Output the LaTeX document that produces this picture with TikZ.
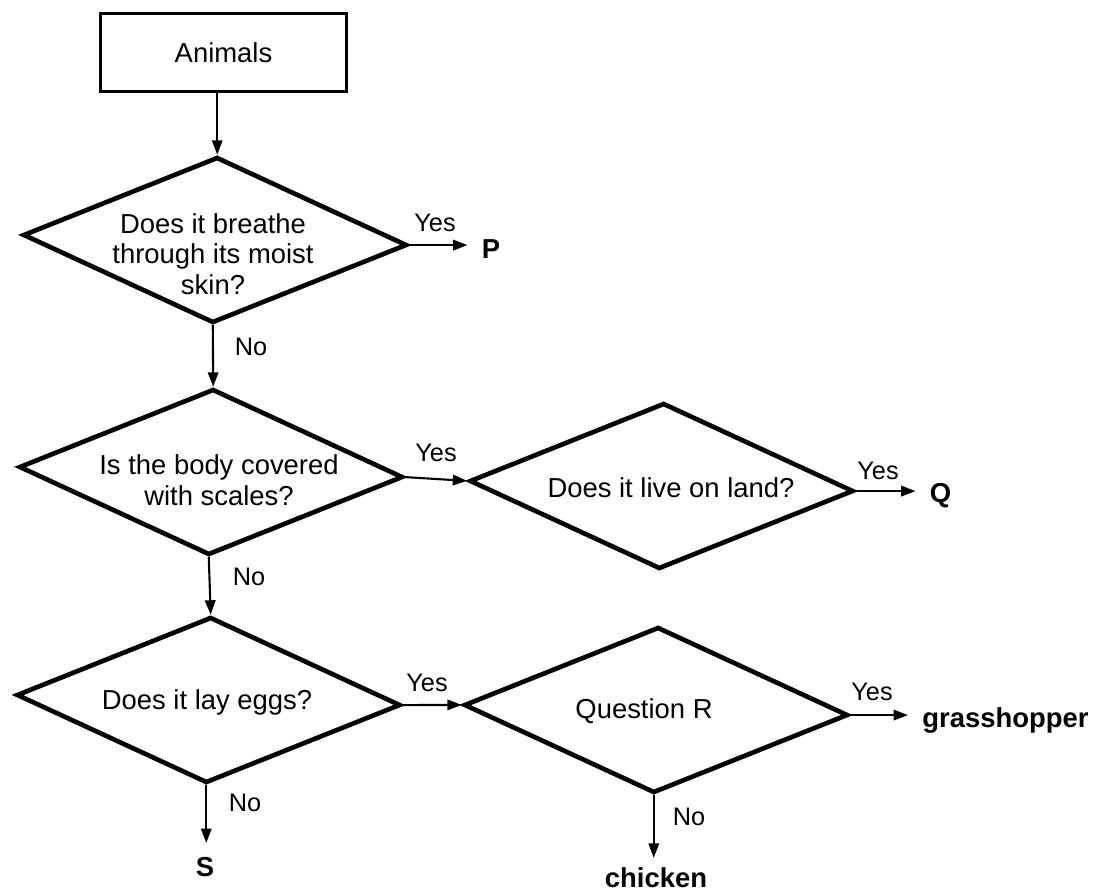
\documentclass[tikz,border=0pt]{standalone}
\usepackage{fontspec}
\setmainfont{Liberation Sans}
\usetikzlibrary{shapes.geometric,arrows.meta}
\newcommand{\bigtext}{\fontsize{19.5}{21.7}\selectfont}
\newcommand{\smalltext}{\fontsize{18}{20}\selectfont}
\tikzset{
	startbox/.style={draw, line width=2.6pt, minimum width=6.15cm, minimum height=1.95cm, inner sep=0pt, font=\bigtext},
	question/.style={diamond, draw, line width=3.3pt, minimum width=9.6cm, minimum height=4.15cm, inner sep=0pt, rotate=-1.5},
	qtext/.style={align=center, font=\bigtext, inner sep=0pt},
	outcome/.style={font=\bigtext\bfseries, inner sep=10pt},
	answer/.style={font=\smalltext, inner sep=0pt},
	flow/.style={line width=1.5pt, ->},
}
\begin{document}
\begin{tikzpicture}[x=0.025cm, y=-0.025cm, line cap=round, >={Triangle[length=3.6mm, width=2.6mm]}]
		\useasboundingbox (0,0) rectangle (1095,894);
		\node[startbox] (animals) at (223.5,52.5) {Animals};
		\node[question] (breathe) at (215,240) {};
		\node[qtext] (breathetext) at (213,254) {Does it breathe\\through its moist\\skin?};
		\node[question] (scales) at (211,472) {};
		\node[qtext] (scalestext) at (219,480) {Is the body covered\\with scales?};
		\node[question] (land) at (661.5,486) {};
		\node[qtext] (landtext) at (671,488) {Does it live on land?};
		\node[question] (eggs) at (208.5,700) {};
		\node[qtext] (eggstext) at (207,702.5) {Does it lay eggs?};
		\node[question] (questionR) at (656,710) {};
		\node[qtext] (questionRtext) at (644,711) {Question R};
		\node[outcome] (p) at (491,249) {P};
		\node[outcome] (q) at (940.5,496) {Q};
		\node[outcome, anchor=west] (grasshopper) at (908,720) {grasshopper};
		\node[outcome] (s) at (205,867) {S};
		\node[outcome, inner ysep=7pt] (chicken) at (656,878) {chicken};
		\draw[flow] (breathe.north |- animals.south) -- (breathe.north);
		\draw[flow] (breathe.east) -- (breathe.east -| p.west);
		\draw[flow] (breathe.south) -- (scales.north);
		\draw[flow] (scales.east) -- (land.west);
		\draw[flow] (land.east) -- (land.east -| q.west);
		\draw[flow] (scales.south) -- (eggs.north);
		\draw[flow] (eggs.east) -- (questionR.west);
		\draw[flow] (questionR.east) -- (questionR.east -| grasshopper.west);
		\draw[flow] (eggs.south) -- (eggs.south |- s.north);
		\draw[flow] (questionR.south) -- (questionR.south |- chicken.north);
		\foreach \x/\y/\t [count=\i] in {435/223/Yes, 251/347/No, 436/453/Yes, 249/577/No, 878/471/Yes, 427/683/Yes, 245/803/No, 872/692/Yes, 689/817/No} {
			\node[answer] (answer\i) at (\x,\y) {\t};
		}
	\end{tikzpicture}
\end{document}
